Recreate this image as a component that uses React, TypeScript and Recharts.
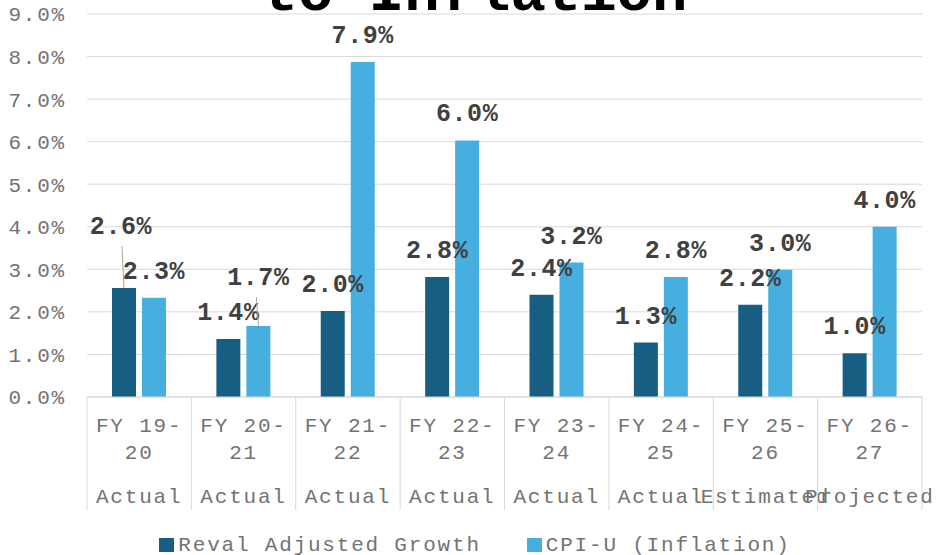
import React from "react";
import {
  BarChart,
  Bar,
  XAxis,
  YAxis,
  CartesianGrid,
  Legend,
  LabelList,
  Customized,
} from "recharts";

// ---------------- data ----------------
const categories = [
  "FY 19-20",
  "FY 20-21",
  "FY 21-22",
  "FY 22-23",
  "FY 23-24",
  "FY 24-25",
  "FY 25-26",
  "FY 26-27",
];
const stages = [
  "Actual",
  "Actual",
  "Actual",
  "Actual",
  "Actual",
  "Actual",
  "Estimated",
  "Projected",
];
const revalAdjustedGrowth = [2.56, 1.36, 2.02, 2.82, 2.4, 1.28, 2.17, 1.03];
const cpiInflation = [2.33, 1.67, 7.87, 6.03, 3.16, 2.82, 2.99, 4.0];
const yTicks = [0, 1, 2, 3, 4, 5, 6, 7, 8, 9];
const seriesKeys = ["reval", "cpi"];
const seriesNames = ["Reval Adjusted Growth", "CPI-U (Inflation)"];
const titleText = "to Inflation";

const data = categories.map((c, i) => ({
  category: c,
  reval: revalAdjustedGrowth[i],
  cpi: cpiInflation[i],
}));

// ---------------- layout / style ----------------
const W = 938;
const H = 555;
const MARGIN = { top: 14, right: 16, bottom: 38, left: 0 };
const Y_AXIS_W = 87;
const X_AXIS_H = 120;
const PLOT_LEFT = MARGIN.left + Y_AXIS_W;
const PLOT_RIGHT = W - MARGIN.right;
const BAND = (PLOT_RIGHT - PLOT_LEFT) / categories.length;

const FONT = "'Liberation Mono', 'Courier New', monospace";
const AXIS_FS = 21;
const AXIS_LS = 1.8;
const AXIS_COLOR = "#737373";
const LABEL_COLOR = "#404040";
const GRID = "#d9d9d9";
const DARK = "#175e82";
const LIGHT = "#47afdf";
const SERIES_COLORS = [DARK, LIGHT];

// manual label nudges (to avoid overlaps, as in the original)
const LABEL_NUDGE: Record<string, Record<number, { dx: number; dy: number; leader: boolean }>> = {
  reval: { 0: { dx: -3, dy: -35, leader: true } },
  cpi: { 1: { dx: 0, dy: -22, leader: true } },
};

function makeLabel(series: string) {
  return (props: any) => {
    const { x, y, width, value, index } = props;
    const cx = Number(x) + Number(width) / 2;
    const top = Number(y);
    const n = (LABEL_NUDGE[series] && LABEL_NUDGE[series][index]) || {
      dx: 0,
      dy: 0,
      leader: false,
    };
    const baseline = top - 19 + n.dy;
    return (
      <g>
        {n.leader && (
          <line
            x1={cx - 2 + n.dx + 3 * (n.dx !== 0 ? 1 : 0)}
            y1={baseline + 12}
            x2={cx}
            y2={top}
            stroke="#a6a6a6"
            strokeWidth={1}
          />
        )}
        <text
          x={cx + n.dx}
          y={baseline}
          textAnchor="middle"
          fontFamily={FONT}
          fontSize={25}
          fontWeight="bold"
          letterSpacing={0.6}
          fill={LABEL_COLOR}
        >
          {Number(value).toFixed(1) + "%"}
        </text>
      </g>
    );
  };
}

function XTick(props: any) {
  const { x, y, payload, index } = props;
  const i =
    typeof index === "number" ? index : categories.indexOf(String(payload.value));
  const label = String(payload.value);
  const cut = label.indexOf("-") + 1;
  const l1 = label.slice(0, cut);
  const l2 = label.slice(cut);
  const left = x - BAND / 2;
  const common = {
    textAnchor: "middle" as const,
    fontFamily: FONT,
    fontSize: AXIS_FS,
    letterSpacing: AXIS_LS,
    fill: AXIS_COLOR,
  };
  return (
    <g>
      <line x1={left} y1={y} x2={left} y2={y + 113} stroke={GRID} strokeWidth={1} />
      {i === categories.length - 1 && (
        <line
          x1={left + BAND}
          y1={y}
          x2={left + BAND}
          y2={y + 113}
          stroke={GRID}
          strokeWidth={1}
        />
      )}
      <text x={x} y={y + 35} {...common}>
        {l1}
      </text>
      <text x={x} y={y + 62} {...common}>
        {l2}
      </text>
      <text x={x} y={y + 106} {...common}>
        {stages[i]}
      </text>
    </g>
  );
}

function LegendContent(props: any) {
  const payload = (props.payload || []).slice();
  payload.sort(
    (a: any, b: any) =>
      seriesKeys.indexOf(String(a.dataKey)) - seriesKeys.indexOf(String(b.dataKey))
  );
  return (
    <div
      style={{
        display: "flex",
        justifyContent: "center",
        alignItems: "center",
        fontFamily: FONT,
        fontSize: AXIS_FS,
        letterSpacing: AXIS_LS,
        color: AXIS_COLOR,
        whiteSpace: "nowrap",
        height: 30,
      }}
    >
      {payload.map((it: any, i: number) => (
        <div
          key={i}
          style={{ display: "flex", alignItems: "center", marginLeft: i ? 46 : 0 }}
        >
          <span
            style={{
              display: "inline-block",
              width: 15,
              height: 14,
              background: it.color || SERIES_COLORS[i],
              marginRight: 4,
            }}
          />
          <span>{it.value}</span>
        </div>
      ))}
    </div>
  );
}

function Title() {
  return (
    <text
      x={475}
      y={10}
      textAnchor="middle"
      fontFamily={FONT}
      fontSize={59}
      fontWeight="bold"
      fill="#000000"
    >
      {titleText}
    </text>
  );
}

export default function App() {
  return (
    <div style={{ position: "absolute", left: 0, top: 0, width: W, height: H }}>
      <BarChart
        width={W}
        height={H}
        data={data}
        margin={MARGIN}
        barSize={24}
        barGap={6}
      >
        <CartesianGrid vertical={false} stroke={GRID} strokeWidth={1} />
        <XAxis
          dataKey="category"
          height={X_AXIS_H}
          interval={0}
          tickLine={false}
          tickSize={0}
          tickMargin={0}
          axisLine={{ stroke: GRID }}
          tick={<XTick />}
        />
        <YAxis
          width={Y_AXIS_W}
          domain={[0, 9]}
          ticks={yTicks}
          interval={0}
          axisLine={false}
          tickLine={false}
          tickSize={0}
          tickMargin={21}
          tickFormatter={(v: number) => v.toFixed(1) + "%"}
          tick={{
            fill: AXIS_COLOR,
            fontSize: AXIS_FS,
            fontFamily: FONT,
            letterSpacing: AXIS_LS,
          }}
        />
        <Legend
          verticalAlign="middle"
          layout="horizontal"
          content={<LegendContent />}
          wrapperStyle={{ top: 530, left: 6, width: W, height: 30 }}
        />
        <Bar
          dataKey="reval"
          name={seriesNames[0]}
          fill={DARK}
          isAnimationActive={false}
        >
          <LabelList dataKey="reval" content={makeLabel("reval")} />
        </Bar>
        <Bar
          dataKey="cpi"
          name={seriesNames[1]}
          fill={LIGHT}
          isAnimationActive={false}
        >
          <LabelList dataKey="cpi" content={makeLabel("cpi")} />
        </Bar>
        <Customized component={Title} />
      </BarChart>
    </div>
  );
}
